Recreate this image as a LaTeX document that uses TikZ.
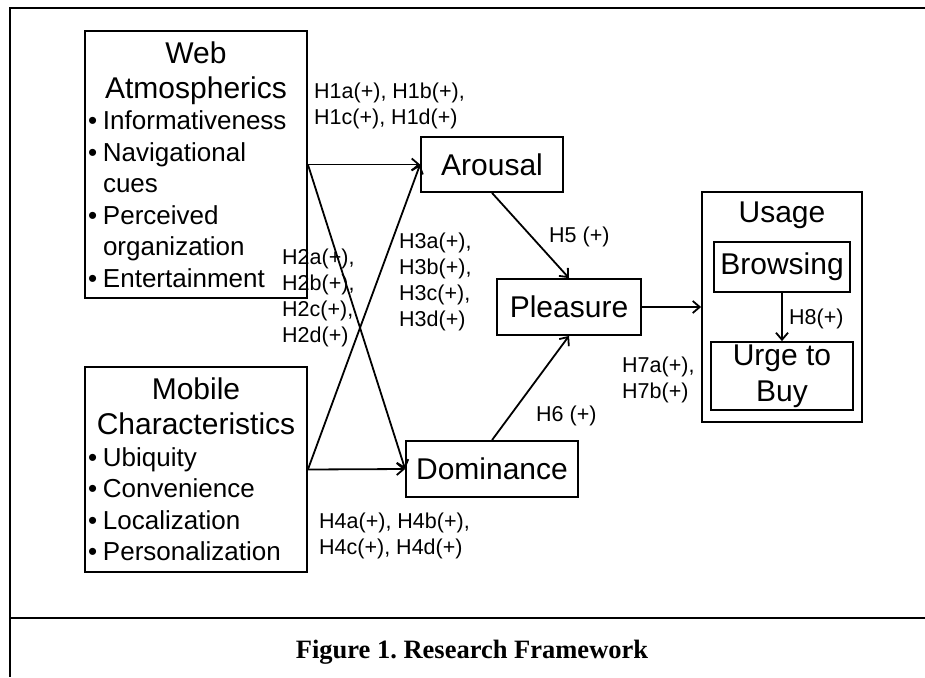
\documentclass[tikz,border=0pt]{standalone}
\usepackage{fontspec}
\setmainfont{Liberation Sans}
\newfontfamily\captionfont{Liberation Serif}
\usetikzlibrary{arrows.meta}
\newcommand{\bulletitem}{\makebox[15pt][l]{•}}
\newcommand{\bulletgap}{\hspace*{15pt}}
\begin{document}
\begin{tikzpicture}
    [x=1pt, y=-1pt,
    construct/.style={rectangle, draw, line width=1.8pt, inner sep=0pt, align=center,
        font=\fontsize{30}{35}\selectfont},
    hyp/.style={anchor=west, inner sep=0pt, align=left, font=\fontsize{21.5}{26}\selectfont},
    path/.style={-{Straight Barb[length=7pt,width=12pt]}, line width=1.8pt}]
    \useasboundingbox (0,0) rectangle (925,677);
    % frame
    \draw[line width=2.5pt] (925,8) -- (10,8) -- (10,677);
    \draw[line width=2.5pt] (10,618) -- (925,618);
    % antecedents
    \node[construct, text width=216pt, inner xsep=3pt, minimum height=267pt] (web) at (196,164.5)
        {\centering Web\\Atmospherics\par
         \raggedright\fontsize{26}{31.5}\selectfont
         \bulletitem Informativeness\\
         \bulletitem Navigational\\
         \bulletgap cues\\
         \bulletitem Perceived\\
         \bulletgap organization\\
         \bulletitem Entertainment\par};
    \node[construct, text width=216pt, inner xsep=3pt, minimum height=205pt] (mobile) at (196,469.5)
        {\centering Mobile\\Characteristics\par
         \raggedright\fontsize{26}{31.5}\selectfont
         \bulletitem Ubiquity\\
         \bulletitem Convenience\\
         \bulletitem Localization\\
         \bulletitem Personalization\par};
    % emotional states
    \node[construct, minimum width=142pt, minimum height=55pt] (arousal) at (492,164.5) {Arousal};
    \node[construct, minimum width=144pt, minimum height=56pt] (pleasure) at (569,307) {Pleasure};
    \node[construct, minimum width=172pt, minimum height=56pt] (dominance) at (492,469) {Dominance};
    % usage
    \node[construct, minimum width=160pt, minimum height=230pt] (usage) at (782,307) {};
    \node[font=\fontsize{30}{35}\selectfont, inner sep=0pt] (usagetitle) at (782,215) {Usage};
    \node[construct, minimum width=136pt, minimum height=50pt] (browsing) at (782,267) {Browsing};
    \node[construct, minimum width=142pt, minimum height=68pt,
        font=\fontsize{30}{36}\selectfont] (urge) at (782,376) {Urge to\\Buy};
    % paths
    \draw[path] (web.east) to (arousal.west);
    \draw[path] (web.east) to (dominance.west);
    \draw[path] (mobile.east) to (dominance.west);
    \draw[path] (mobile.east) to (arousal.west);
    \draw[path] (arousal.south) to (pleasure.north);
    \draw[path] (dominance.north) to (pleasure.south);
    \draw[path] (pleasure.east) to (usage.west);
    \draw[path] (browsing.south) to (urge.north);
    % hypotheses
    \node[hyp] (h1) at (314,105.5) {H1a(+), H1b(+),\\H1c(+), H1d(+)};
    \node[hyp] (h2) at (282,297.5) {H2a(+),\\H2b(+),\\H2c(+),\\H2d(+)};
    \node[hyp] (h3) at (399,281.5) {H3a(+),\\H3b(+),\\H3c(+),\\H3d(+)};
    \node[hyp] (h4) at (319,535.5) {H4a(+), H4b(+),\\H4c(+), H4d(+)};
    \node[hyp] (h5) at (549,237) {H5 (+)};
    \node[hyp] (h6) at (536,416) {H6 (+)};
    \node[hyp] (h7) at (622,379.5) {H7a(+),\\H7b(+)};
    \node[hyp] (h8) at (789,319) {H8(+)};
    % caption
    \node[font=\captionfont\bfseries\fontsize{26.5}{30}\selectfont] (caption) at (472,652)
        {Figure 1.\ Research Framework};
\end{tikzpicture}
\end{document}
